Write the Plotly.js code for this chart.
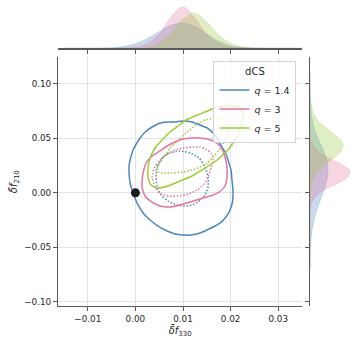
<!DOCTYPE html>
<html><head><meta charset="utf-8">
<script src="https://cdn.plot.ly/plotly-3.0.1.min.js"></script>
<style>html,body{margin:0;padding:0;background:#fff}#chart{width:358px;height:345px}</style>
</head><body><div id="chart"></div>
<script>
// ---- series labels & colours ----
const seriesNames = ["<i>q</i> = 1.4", "<i>q</i> = 3", "<i>q</i> = 5"];
const seriesColors = ["#4a86bf", "#e6739c", "#9ccc34"];
const fillColors = ["rgba(74,134,191,0.3)", "rgba(230,115,156,0.3)", "rgba(150,200,60,0.3)"];

// ---- tick labels ----
const xTickVals = [-0.01, 0.00, 0.01, 0.02, 0.03];
const xTickText = ["\u22120.01", "0.00", "0.01", "0.02", "0.03"];
const yTickVals = [-0.10, -0.05, 0.00, 0.05, 0.10];
const yTickText = ["\u22120.10", "\u22120.05", "0.00", "0.05", "0.10"];

// ---- reference point ----
const refX = [0.0];
const refY = [0.0];

// ---- outer (solid) contours ----
const blueOuterX = [-0.00132,-0.00048,0.00099,0.00204,0.00350,0.00518,0.00665,0.00833,0.01001,0.01190,0.01358,0.01505,0.01631,0.01736,0.01819,0.01903,0.01945,0.02008,0.02029,0.02050,0.02050,0.02029,0.01987,0.01903,0.01777,0.01589,0.01358,0.01169,0.01001,0.00833,0.00665,0.00476,0.00308,0.00162,0.00036,-0.00048,-0.00111,-0.00132,-0.00132];
const blueOuterY = [0.02555,0.03934,0.05037,0.05588,0.06048,0.06415,0.06507,0.06507,0.06599,0.06507,0.06232,0.05956,0.05496,0.04853,0.04210,0.03566,0.03015,0.02096,0.01176,0.00257,-0.00386,-0.01029,-0.01581,-0.02224,-0.02776,-0.03235,-0.03695,-0.03879,-0.03879,-0.03787,-0.03511,-0.03051,-0.02500,-0.01857,-0.00938,-0.00018,0.00901,0.01728,0.02555];

const pinkOuterX = [0.00162,0.00225,0.00350,0.00518,0.00665,0.00833,0.01001,0.01190,0.01358,0.01505,0.01631,0.01757,0.01819,0.01882,0.01924,0.01924,0.01882,0.01757,0.01568,0.01358,0.01148,0.00938,0.00728,0.00518,0.00350,0.00204,0.00141,0.00141,0.00162];
const pinkOuterY = [0.01820,0.02739,0.03382,0.03842,0.04301,0.04669,0.04945,0.05037,0.05037,0.04945,0.04761,0.04393,0.04026,0.03290,0.02371,0.01452,0.00625,0.00074,-0.00294,-0.00570,-0.00846,-0.01121,-0.01305,-0.01213,-0.00846,-0.00294,0.00533,0.01176,0.01820];

const greenOuterX = [0.00267,0.00308,0.00413,0.00560,0.00728,0.00896,0.01064,0.01253,0.01463,0.01673,0.01882,0.02050,0.02197,0.02260,0.02239,0.02176,0.02050,0.01903,0.01715,0.01463,0.01190,0.00938,0.00686,0.00476,0.00329,0.00267,0.00267];
const greenOuterY = [0.02371,0.03199,0.04118,0.04853,0.05588,0.06140,0.06691,0.07059,0.07427,0.07794,0.07978,0.07978,0.07794,0.07151,0.06415,0.05496,0.04577,0.03750,0.03015,0.02279,0.01544,0.01085,0.00625,0.00441,0.00717,0.01452,0.02371];

// ---- inner (dotted) contours ----
const blueInnerX = [0.00434,0.00476,0.00581,0.00728,0.00938,0.01148,0.01337,0.01463,0.01526,0.01526,0.01463,0.01316,0.01106,0.00875,0.00686,0.00539,0.00455,0.00434];
const blueInnerY = [0.01636,0.02555,0.03290,0.03658,0.03842,0.03658,0.03199,0.02371,0.01452,0.00533,-0.00202,-0.00846,-0.01213,-0.01121,-0.00754,-0.00202,0.00625,0.01636];

const pinkInnerX = [0.00350,0.00392,0.00518,0.00665,0.00833,0.01001,0.01190,0.01358,0.01505,0.01610,0.01631,0.01589,0.01526,0.01442,0.01295,0.01106,0.00896,0.00686,0.00518,0.00413,0.00350];
const pinkInnerY = [0.01452,0.02279,0.03015,0.03566,0.03934,0.04118,0.04210,0.04210,0.03934,0.03566,0.03015,0.02279,0.01452,0.00809,0.00257,-0.00110,-0.00294,-0.00294,-0.00018,0.00533,0.01452];

const greenInnerX = [0.00434,0.00497,0.00602,0.00728,0.00896,0.01085,0.01274,0.01463,0.01652,0.01819,0.01924,0.01945,0.01861,0.01757,0.01631,0.01505,0.01358,0.01190,0.01001,0.00770,0.00581,0.00434];
const greenInnerY = [0.02004,0.02647,0.03290,0.04118,0.04853,0.05588,0.06232,0.06691,0.06875,0.06783,0.06415,0.05772,0.04669,0.03934,0.03290,0.02739,0.02371,0.02096,0.01912,0.01820,0.01820,0.02004];

// ---- marginal densities: top (δf330) ----
const topGrid = [-0.015,-0.0125,-0.01,-0.0075,-0.005,-0.0025,0,0.0025,0.005,0.0075,0.01,0.0125,0.015,0.0175,0.02,0.0225,0.025,0.0275,0.03,0.0325,0.035];
const topBlue  = [0,0.03,0.06,0.4,1.6,5.3,14.1,30.1,51.8,71.6,78.5,67.8,44.0,22.0,8.2,2.4,0.6,0.1,0,0,0];
const topPink  = [0,0,0,0,0.2,0.9,3.8,14.1,44.0,97.3,128.7,94.2,44.0,15.7,4.7,1.3,0.3,0,0,0,0];
const topGreen = [0,0,0,0,0,0.05,0.3,2.5,14.1,46.5,91.7,109.3,81.6,40.8,15.7,4.7,1.3,0.3,0,0,0];

// ---- marginal densities: right (δf210) ----
const rightGrid = [-0.07,-0.065,-0.06,-0.055,-0.05,-0.045,-0.04,-0.035,-0.03,-0.025,-0.02,-0.015,-0.01,-0.005,0,0.005,0.01,0.015,0.02,0.025,0.03,0.035,0.04,0.045,0.05,0.055,0.06,0.065,0.07,0.075,0.08,0.085,0.09,0.095,0.1,0.105,0.11];
const rightBlue  = [0.05,0.09,0.16,0.28,0.46,0.75,1.16,1.75,2.57,3.58,4.86,6.38,8.07,9.89,11.7,13.4,14.8,15.8,16.3,16.1,15.2,13.7,11.7,9.4,7.3,5.3,3.6,2.4,1.5,0.9,0.5,0.27,0.14,0.06,0.03,0.01,0];
const rightPink  = [0,0,0,0,0,0,0,0,0,0,0.08,0.36,1.3,3.7,9.0,17.2,27.2,34.6,35.9,30.3,20.9,11.6,5.3,1.9,0.6,0.14,0.03,0,0,0,0,0,0,0,0,0,0];
const rightGreen = [0,0,0,0,0,0,0,0,0,0,0,0,0,0.07,0.18,0.68,1.7,3.8,7.3,12.8,19.0,25.0,29.2,29.7,26.3,20.4,14.1,8.4,4.4,2.4,1.3,0.6,0.27,0.1,0.03,0,0];

const outerX = [blueOuterX, pinkOuterX, greenOuterX];
const outerY = [blueOuterY, pinkOuterY, greenOuterY];
const innerX = [blueInnerX, pinkInnerX, greenInnerX];
const innerY = [blueInnerY, pinkInnerY, greenInnerY];
const topDens = [topBlue, topPink, topGreen];
const rightDens = [rightBlue, rightPink, rightGreen];

const traces = [];
for (let i = 0; i < 3; i++) {
  traces.push({type:'scatter', mode:'lines', x: topGrid, y: topDens[i], xaxis:'x2', yaxis:'y2',
    fill:'tozeroy', fillcolor: fillColors[i], line:{color: fillColors[i], width:0.8, shape:'spline'},
    showlegend:false, hoverinfo:'skip'});
  traces.push({type:'scatter', mode:'lines', x: rightDens[i], y: rightGrid, xaxis:'x3', yaxis:'y3',
    fill:'tozerox', fillcolor: fillColors[i], line:{color: fillColors[i], width:0.8, shape:'spline'},
    showlegend:false, hoverinfo:'skip'});
}
for (let i = 0; i < 3; i++) {
  traces.push({type:'scatter', mode:'lines', x: innerX[i], y: innerY[i], xaxis:'x', yaxis:'y',
    line:{color: seriesColors[i], width:1.5, dash:'1.5px,1.8px', shape:'spline', smoothing:0.6},
    showlegend:false, hoverinfo:'skip'});
}
for (let i = 0; i < 3; i++) {
  traces.push({type:'scatter', mode:'lines', x: outerX[i], y: outerY[i], xaxis:'x', yaxis:'y',
    name: seriesNames[i], line:{color: seriesColors[i], width:1.5, shape:'spline', smoothing:0.6},
    legendrank: i + 1});
}
traces.push({type:'scatter', mode:'markers', x: refX, y: refY, xaxis:'x', yaxis:'y',
  marker:{color:'#1a1a1a', size:9}, showlegend:false, hoverinfo:'skip'});

const axisLine = '#5a5a5a';
const textFont = {family:'DejaVu Sans, sans-serif', size:8.8, color:'#262626'};

const layout = {
  width:358, height:345,
  margin:{l:0, r:0, t:0, b:0},
  paper_bgcolor:'#ffffff', plot_bgcolor:'rgba(0,0,0,0)',
  font:{family:'DejaVu Sans, sans-serif', color:'#262626'},
  showlegend:true,
  legend:{
    x:0.828, xanchor:'right', y:0.822, yanchor:'top',
    bgcolor:'rgba(255,255,255,0.8)', bordercolor:'#d4d4d4', borderwidth:1,
    font:{family:'DejaVu Sans, sans-serif', size:9.5, color:'#262626'},
    title:{text:'dCS', side:'top center', font:{family:'DejaVu Sans, sans-serif', size:10, color:'#262626'}},
    tracegroupgap:0, itemwidth:30
  },
  xaxis:{domain:[0.1628, 0.8436], range:[-0.0162, 0.0350], anchor:'y',
    tickvals:xTickVals, ticktext:xTickText, tickfont:textFont,
    showgrid:true, gridcolor:'#e3e3e3', gridwidth:1, zeroline:false,
    showline:true, linecolor:axisLine, linewidth:1.3,
    ticks:'outside', ticklen:4, tickwidth:1, tickcolor:axisLine,
    title:{text:'<i>δ\u0304f</i><sub>330</sub>', font:{family:'DejaVu Sans, sans-serif', size:10, color:'#262626'}, standoff:4}},
  yaxis:{domain:[0.1130, 0.8339], range:[-0.1040, 0.1245], anchor:'x',
    tickvals:yTickVals, ticktext:yTickText, tickfont:textFont,
    showgrid:true, gridcolor:'#e3e3e3', gridwidth:1, zeroline:false,
    showline:true, linecolor:axisLine, linewidth:1.3,
    ticks:'outside', ticklen:4, tickwidth:1, tickcolor:axisLine,
    title:{text:'<i>δ\u0304f</i><sub>210</sub>', font:{family:'DejaVu Sans, sans-serif', size:10, color:'#262626'}, standoff:4}},
  xaxis2:{domain:[0.1628, 0.8436], matches:'x', anchor:'y2',
    tickvals:xTickVals, showticklabels:false, showgrid:false, zeroline:false,
    showline:true, linecolor:axisLine, linewidth:1.3,
    ticks:'outside', ticklen:4, tickwidth:1, tickcolor:axisLine},
  yaxis2:{domain:[0.86, 1.0], range:[0, 150.7], anchor:'x2', visible:false},
  xaxis3:{domain:[0.8659, 1.0], range:[0, 43.5], anchor:'y3', visible:false},
  yaxis3:{domain:[0.1130, 0.8339], matches:'y', anchor:'x3', side:'left',
    tickvals:yTickVals, showticklabels:false, showgrid:false, zeroline:false,
    showline:true, linecolor:axisLine, linewidth:1.3,
    ticks:'outside', ticklen:4, tickwidth:1, tickcolor:axisLine}
};

Plotly.newPlot('chart', traces, layout, {displayModeBar:false, staticPlot:true});
</script>
</body></html>
